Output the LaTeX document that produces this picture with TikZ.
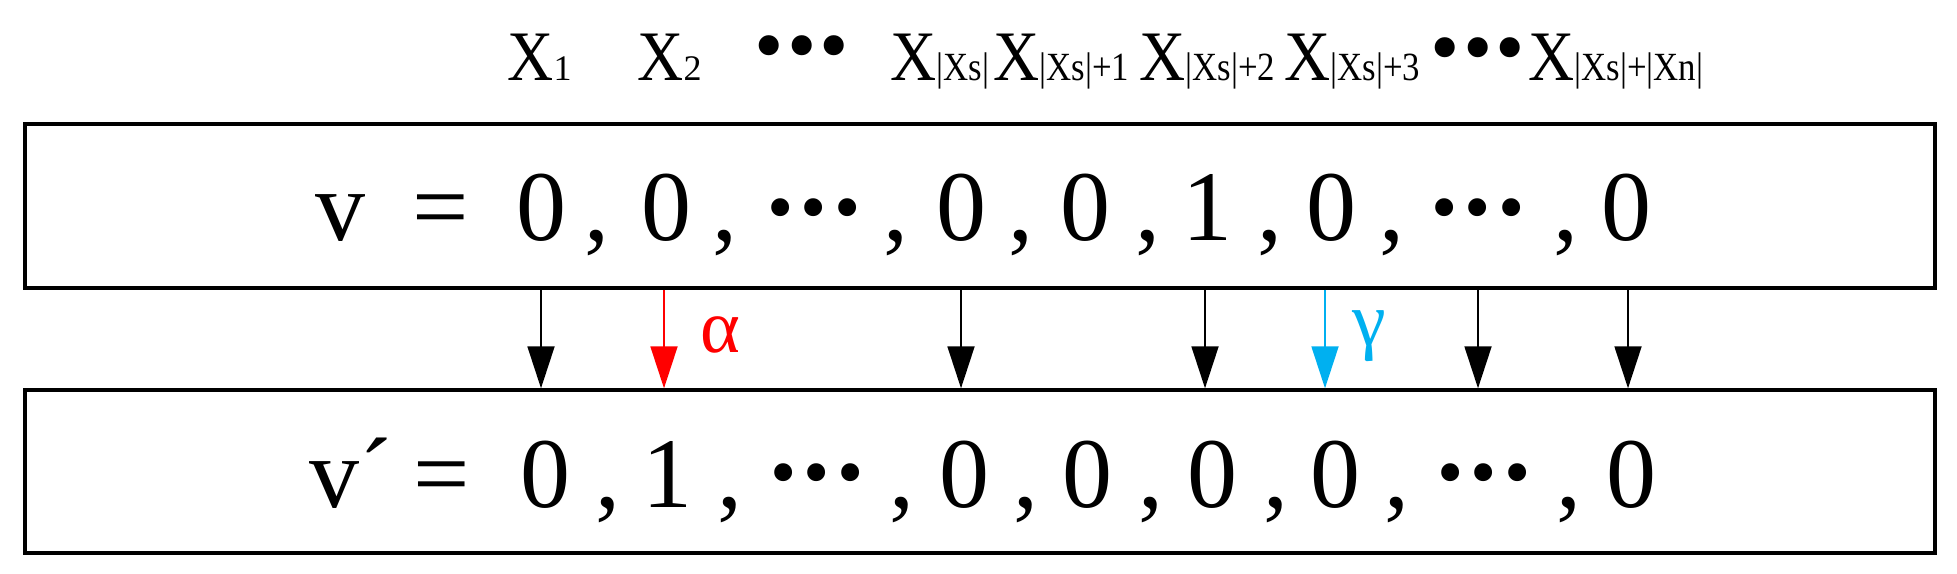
\documentclass[tikz,border=0pt]{standalone}
\usepackage{fontspec}
\setmainfont{Liberation Serif}
\usetikzlibrary{arrows.meta}
\definecolor{myred}{RGB}{255,0,0}
\definecolor{mycyan}{RGB}{0,176,240}
\newcommand\bigf{\fontsize{50}{60}\selectfont}
\newcommand\hdrf{\fontsize{35.5}{40}\selectfont}
\newcommand\subf{\fontsize{20}{24}\selectfont}
\newcommand\subd{\fontsize{18}{22}\selectfont}
\newcommand\grkf{\fontsize{38}{40}\selectfont}
\tikzset{
  vbox/.style={draw, line width=1.7pt, inner sep=0pt, fill=white},
  tok/.style={font=\bigf, inner sep=0pt, anchor=base},
  hdr/.style={font=\hdrf, inner sep=0pt, anchor=base west},
  hdots/.style={inner sep=0pt, anchor=north, font=\fontsize{42}{42}\selectfont},
  bdots/.style={inner sep=0pt, anchor=north, font=\fontsize{37.5}{38}\selectfont},
  arr/.style={line width=0.9pt, -{Triangle[length=21pt,width=13.5pt]}},
  glab/.style={font=\grkf, inner sep=0pt, anchor=base}
}
\begin{document}
\begin{tikzpicture}[x=0.5pt,y=-0.5pt]
\useasboundingbox (0,0) rectangle (1957,573);
% boxes
\node[vbox, minimum width=955pt, minimum height=82pt] (top) at (980,206) {};
\node[vbox, minimum width=955pt, minimum height=81.5pt] (bot) at (980,471.5) {};
% header labels
\node[hdr] (h1) at (507,80) {\scalebox{0.9}[1]{X}{\subd 1}};
\node[hdr] (h2) at (637,80) {\scalebox{0.9}[1]{X}{\subd 2}};
\node[hdots] (hd1) at (802,35) {•\kern1.5pt•\kern1.5pt•};
\node[hdr] (h3) at (890,80) {\scalebox{0.9}[1]{X}\scalebox{0.87}[1]{\subf |Xs|}};
\node[hdr] (h4) at (993,80) {\scalebox{0.9}[1]{X}\scalebox{0.87}[1]{\subf |Xs|+1}};
\node[hdr] (h5) at (1139,80) {\scalebox{0.9}[1]{X}\scalebox{0.87}[1]{\subf |Xs|+2}};
\node[hdr] (h6) at (1284,80) {\scalebox{0.9}[1]{X}\scalebox{0.87}[1]{\subf |Xs|+3}};
\node[hdots] (hd2) at (1478,37) {•\kern1.5pt•\kern1.5pt•};
\node[hdr] (h7) at (1528,80) {\scalebox{0.9}[1]{X}\scalebox{0.87}[1]{\subf |Xs|+|Xn|}};
% top vector
\node[tok, anchor=base west] (tv) at (315,240) {v};
\node[tok] (teq) at (441,240) {=};
\foreach \x/\t [count=\i] in {541/0,666/0,961/0,1085/0,1207/1,1331/0,1626/0}
  \node[tok] (td\i) at (\x,240) {\t};
\foreach \x [count=\i] in {597,725,896,1021,1148,1270,1392,1566}
  \node[tok] (tc\i) at (\x,240) {,};
\node[bdots] (tdot1) at (814,198) {•\kern3.5pt•\kern3.5pt•};
\node[bdots] (tdot2) at (1478,198) {•\kern3.5pt•\kern3.5pt•};
% bottom vector
\node[tok, anchor=base west] (bv) at (309,507) {v´};
\node[tok] (beq) at (442,507) {=};
\foreach \x/\t [count=\i] in {545/0,667/1,964/0,1087/0,1212/0,1335/0,1631/0}
  \node[tok] (bd\i) at (\x,507) {\t};
\foreach \x [count=\i] in {608,730,902,1026,1151,1276,1397,1569}
  \node[tok] (bc\i) at (\x,507) {,};
\node[bdots] (bdot1) at (817,463) {•\kern3.5pt•\kern3.5pt•};
\node[bdots] (bdot2) at (1484,463) {•\kern3.5pt•\kern3.5pt•};
% arrows
\foreach \x [count=\i] in {541,664,961,1205,1325,1478,1628}
  \coordinate (c\i) at (\x,0);
\foreach \i in {1,3,4,6,7}
  \draw[arr] (c\i |- top.south) -- (c\i |- bot.north);
\draw[arr, myred] (c2 |- top.south) -- (c2 |- bot.north);
\draw[arr, mycyan] (c5 |- top.south) -- (c5 |- bot.north);
\node[glab, text=myred] (alpha) at (720,352) {α};
\node[glab, text=mycyan] (gamma) at (1369,345) {γ};
\end{tikzpicture}
\end{document}
